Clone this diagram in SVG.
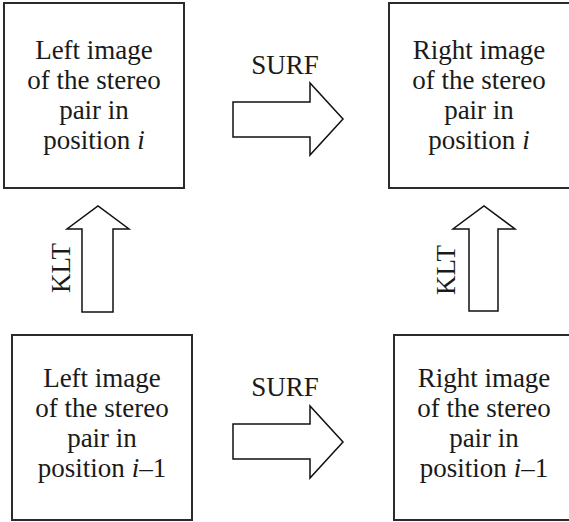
<svg xmlns="http://www.w3.org/2000/svg" width="569" height="522" viewBox="0 0 569 522">
  <style>
    .box { fill: #fff; stroke: #2b2b2b; stroke-width: 2; }
    .arrow { fill: #fff; stroke: #111; stroke-width: 1.5; stroke-linejoin: miter; }
    text { font-family: "Liberation Serif", "Times New Roman", serif; font-size: 27px; fill: #1a1a1a; }
    .c { text-anchor: middle; }
  </style>
  <rect width="569" height="522" fill="#fff"/>

  <!-- stage i, left frame -->
  <g id="left-i">
    <rect class="box" x="4" y="3" width="180" height="185"/>
    <text class="c" x="94" y="59">Left image</text>
    <text class="c" x="94" y="89">of the stereo</text>
    <text class="c" x="94" y="119">pair in</text>
    <text class="c" x="94" y="149">position <tspan font-style="italic">i</tspan></text>
  </g>

  <!-- stage i, right frame -->
  <g id="right-i">
    <rect class="box" x="389" y="3" width="182" height="185"/>
    <text class="c" x="479" y="59">Right image</text>
    <text class="c" x="479" y="89">of the stereo</text>
    <text class="c" x="479" y="119">pair in</text>
    <text class="c" x="479" y="149">position <tspan font-style="italic">i</tspan></text>
  </g>

  <!-- stage i-1, left frame -->
  <g id="left-i-1">
    <rect class="box" x="12" y="335" width="180" height="185"/>
    <text class="c" x="102" y="387">Left image</text>
    <text class="c" x="102" y="417">of the stereo</text>
    <text class="c" x="102" y="447">pair in</text>
    <text class="c" x="102" y="477">position <tspan font-style="italic">i</tspan>–1</text>
  </g>

  <!-- stage i-1, right frame -->
  <g id="right-i-1">
    <rect class="box" x="394" y="335" width="182" height="185"/>
    <text class="c" x="484" y="387">Right image</text>
    <text class="c" x="484" y="417">of the stereo</text>
    <text class="c" x="484" y="447">pair in</text>
    <text class="c" x="484" y="477">position <tspan font-style="italic">i</tspan>–1</text>
  </g>

  <!-- block arrows with their labels -->
  <g id="connectors">
    <g id="surf-top">
      <polygon class="arrow" points="233,102 310,102 310,83 343,119 310,155 310,137 233,137"/>
      <text class="c" x="285" y="74">SURF</text>
    </g>
    <g id="surf-bottom">
      <polygon class="arrow" points="233,424 310,424 310,406 343,442 310,478 310,459 233,459"/>
      <text class="c" x="285" y="396">SURF</text>
    </g>
    <g id="klt-left">
      <polygon class="arrow" points="82,312 82,229 67,229 98,206 129,229 113,229 113,312"/>
      <text class="c" x="70" y="268" transform="rotate(-90 70 268)">KLT</text>
    </g>
    <g id="klt-right">
      <polygon class="arrow" points="469,311 469,229 453,229 484,206 515,229 498,229 498,311"/>
      <text class="c" x="455" y="270" transform="rotate(-90 455 270)">KLT</text>
    </g>
  </g>
</svg>
